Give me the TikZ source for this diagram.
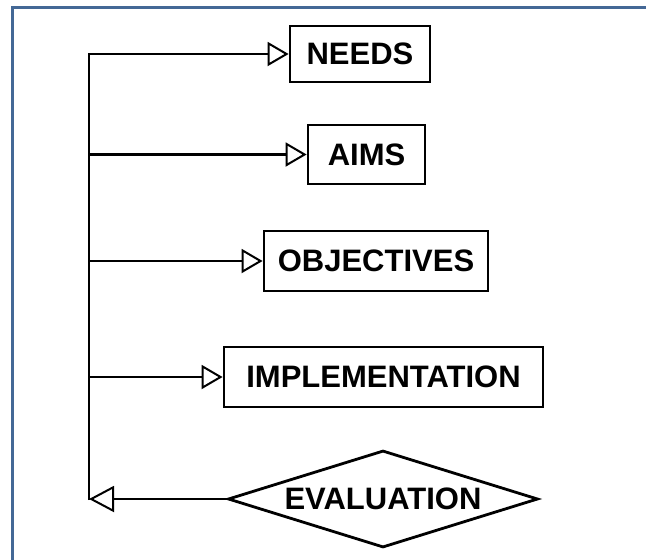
\documentclass[tikz,border=0pt]{standalone}
\usepackage{fontspec}
\setmainfont{Liberation Sans}
\usetikzlibrary{arrows.meta,shapes.geometric}
\definecolor{frameblue}{RGB}{68,104,150}
\begin{document}
\begin{tikzpicture}[x=1pt,y=-1pt,
  line width=2.5pt,
  box/.style={draw,rectangle,inner sep=0pt,line width=2.8pt,font=\fontsize{31}{36}\selectfont\bfseries},
  deci/.style={draw,diamond,inner sep=0pt,line width=2.8pt,aspect=3.2,font=\fontsize{31}{36}\selectfont\bfseries},
  tip/.style={-{Triangle[open,length=21pt,width=24pt,line width=2pt]}},
  bigtip/.style={-{Triangle[open,length=25pt,width=26pt,line width=2pt]}}]
\useasboundingbox (0,0) rectangle (646,560);
% frame
\draw[frameblue,line width=3pt] (12,560) -- (12,7) -- (646,7);
% nodes
\node[box,minimum width=140pt,minimum height=56pt] (needs) at (360,54) {NEEDS};
\node[box,minimum width=117pt,minimum height=59pt] (aims) at (366.5,154.5) {AIMS};
\node[box,minimum width=224pt,minimum height=60pt] (obj) at (376,261) {OBJECTIVES};
\node[box,minimum width=319pt,minimum height=60pt] (impl) at (383.5,377) {IMPLEMENTATION};
\node[deci,minimum width=310pt,minimum height=97pt] (eval) at (383,499) {EVALUATION};
% spine
\coordinate (top) at (89,54);
\coordinate (bot) at (89,500);
\draw[tip] (bot) -- (top) -- (needs.west);
\draw[tip] (top |- aims.west) -- (aims.west);
\draw[tip] (top |- obj.west) -- (obj.west);
\draw[tip] (top |- impl.west) -- (impl.west);
\draw[bigtip] (eval.west) -- (eval.west -| bot);
\end{tikzpicture}
\end{document}
